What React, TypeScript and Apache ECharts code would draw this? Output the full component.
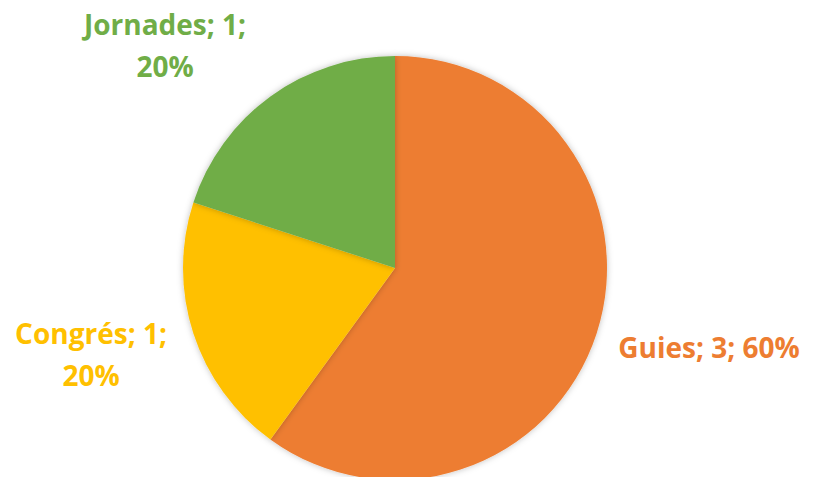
import React, { useEffect, useRef } from "react";
import * as echarts from "echarts";

const categories = ["Guies", "Congrés", "Jornades"];
const values = [3, 1, 1];
const percents = ["60%", "20%", "20%"];
const colors = ["#ED7D31", "#FFC000", "#70AD47"];
const labelTexts = ["Guies; 3; 60%", "Congrés; 1;\n20%", "Jornades; 1;\n20%"];
const labelPos = [
  [709, 347],
  [91, 354],
  [165, 45],
];

export default function App() {
  const ref = useRef<HTMLDivElement>(null);
  useEffect(() => {
    if (!ref.current) return;
    const chart = echarts.init(ref.current, null, { renderer: "svg" });
    chart.setOption({
      animation: false,
      backgroundColor: "#ffffff",
      series: [
        {
          type: "pie",
          center: [395, 268],
          radius: 212,
          startAngle: 90,
          clockwise: true,
          data: categories.map((c, i) => ({
            name: c,
            value: values[i],
            itemStyle: {
              color: colors[i],
              shadowBlur: 6,
              shadowColor: "rgba(0,0,0,0.25)",
            },
            label: { color: colors[i] },
          })),
          label: {
            show: true,
            position: "outside",
            formatter: (p: any) => labelTexts[p.dataIndex],
            fontFamily: "Open Sans",
            fontWeight: "bold",
            fontSize: 28,
            lineHeight: 42,
            align: "center",
            overflow: "none",
            width: 300,
          },
          labelLine: { show: false },
          labelLayout: (params: any) => ({
            x: labelPos[params.dataIndex][0],
            y: labelPos[params.dataIndex][1],
            align: "center",
            verticalAlign: "middle",
          }),
          emphasis: { disabled: true },
        },
      ],
    });
    return () => chart.dispose();
  }, []);
  return (
    <div
      ref={ref}
      style={{ position: "absolute", left: 0, top: 0, width: 817, height: 477 }}
    />
  );
}
